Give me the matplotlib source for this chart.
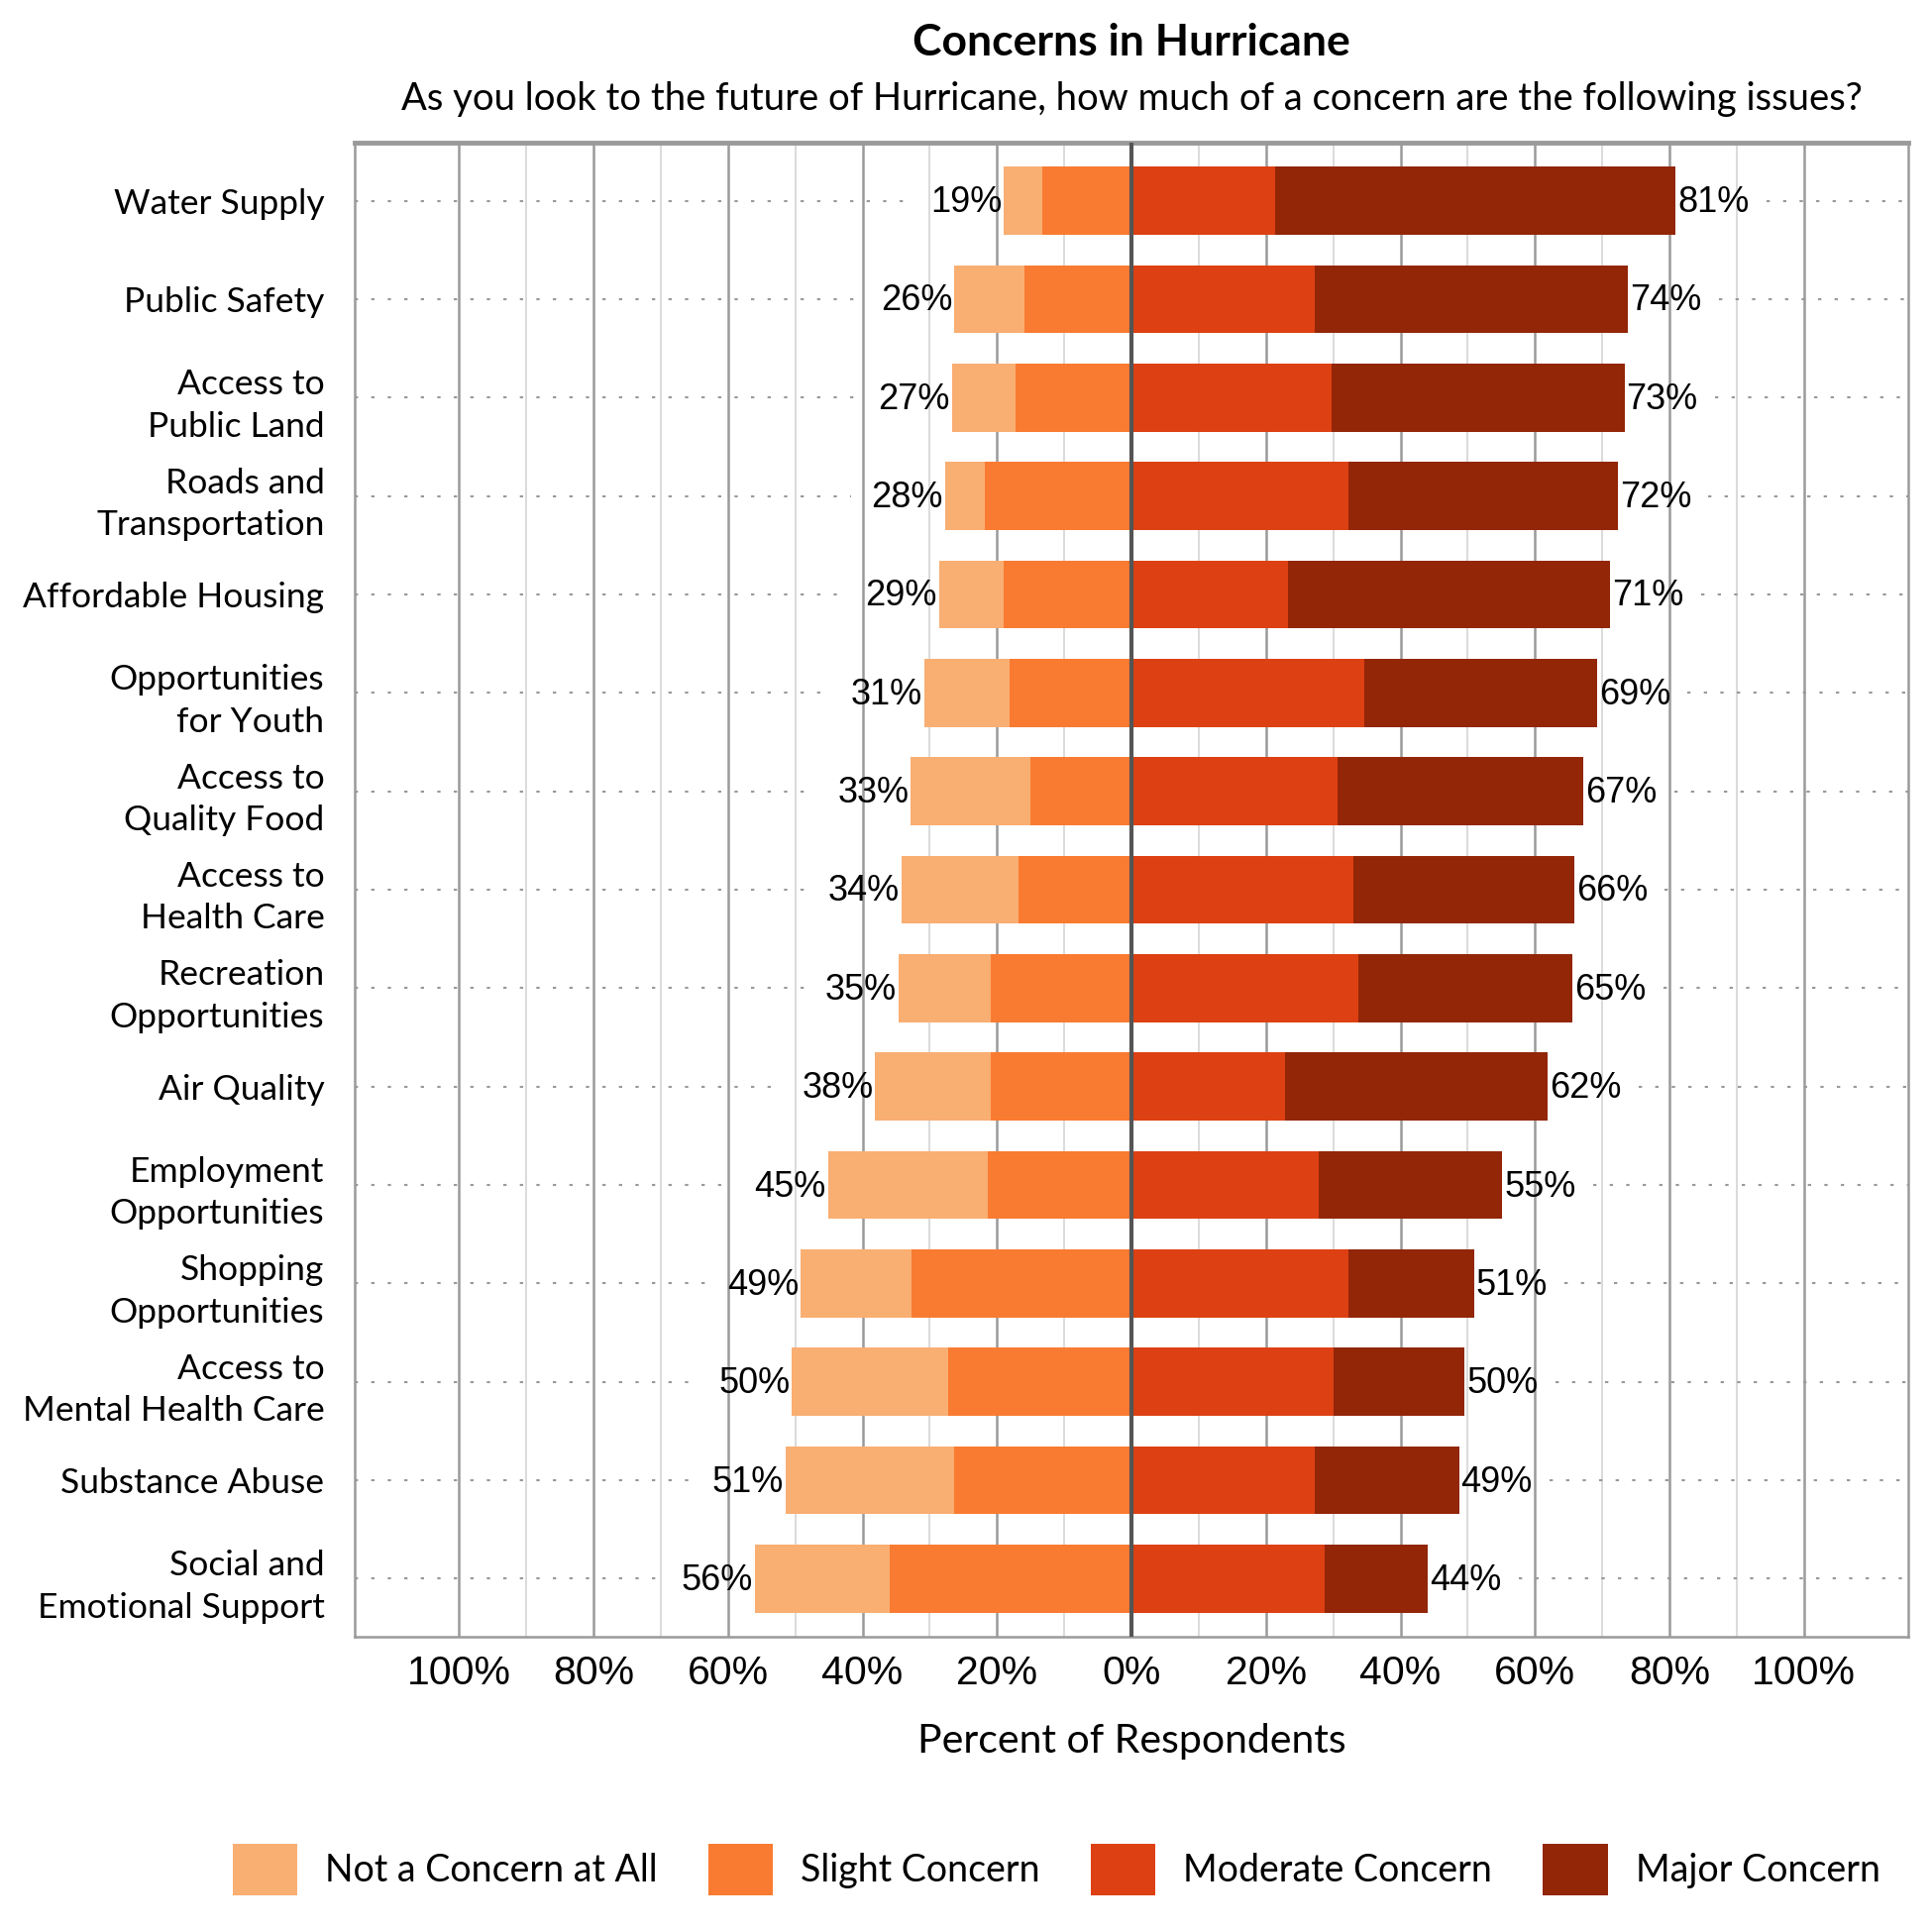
import numpy as np
import matplotlib
matplotlib.use("Agg")
import matplotlib.pyplot as plt
from matplotlib.patches import Patch

# issues, top to bottom
issues = ["Water Supply", "Public Safety", "Access to\nPublic Land",
          "Roads and\nTransportation", "Affordable Housing",
          "Opportunities\nfor Youth", "Access to\nQuality Food",
          "Access to\nHealth Care", "Recreation\nOpportunities", "Air Quality",
          "Employment\nOpportunities", "Shopping\nOpportunities",
          "Access to\nMental Health Care", "Substance Abuse",
          "Social and\nEmotional Support"]

# percent of respondents per answer
not_concern = [5.8, 10.4, 9.5, 5.9, 9.6, 12.7, 17.8, 17.4, 13.7, 17.2, 23.7, 16.5, 23.3, 25.0, 20.0]
slight = [13.2, 15.9, 17.2, 21.8, 19.0, 18.1, 15.0, 16.8, 20.9, 20.9, 21.4, 32.7, 27.2, 26.4, 36.0]
moderate = [21.4, 27.3, 29.7, 32.2, 23.3, 34.6, 30.6, 33.0, 33.7, 22.9, 27.8, 32.2, 30.0, 27.2, 28.7]
major = [59.5, 46.5, 43.6, 40.1, 47.9, 34.6, 36.6, 32.8, 31.9, 39.0, 27.3, 18.7, 19.5, 21.5, 15.4]
neg_labels = ["19%", "26%", "27%", "28%", "29%", "31%", "33%", "34%", "35%", "38%", "45%", "49%", "50%", "51%", "56%"]
pos_labels = ["81%", "74%", "73%", "72%", "71%", "69%", "67%", "66%", "65%", "62%", "55%", "51%", "50%", "49%", "44%"]

series = ["Not a Concern at All", "Slight Concern", "Moderate Concern", "Major Concern"]
colors = ["#F9AE72", "#F97B31", "#DD4012", "#922607"]

label_font = "Lato"
num_font = "Liberation Sans"

fig = plt.figure(figsize=(19.5, 19.5), dpi=100)
ax_rect = [0.1836, 0.1528, 0.8041, 0.7734]
ax = fig.add_axes(ax_rect)

n = len(issues)
y = np.arange(n)
nc = np.array(not_concern)
sl = np.array(slight)
mo = np.array(moderate)
ma = np.array(major)
neg_total = nc + sl
pos_total = mo + ma

xmax = 115.5
ax.set_xlim(-xmax, xmax)
ax.set_ylim(n - 0.41, -0.59)

# vertical grid
for v in range(-100, 101, 10):
    if v == 0:
        continue
    if v % 20 == 0:
        ax.axvline(v, color="#9a9a9a", lw=1.8, zorder=0)
    else:
        ax.axvline(v, color="#d4d4d4", lw=1.2, zorder=0)

# dotted guide lines, broken where the totals are written
for i in range(n):
    ax.plot([-xmax, -neg_total[i] - 14], [i, i], color="#999999", lw=1.5,
            ls=(0, (1.6, 6.4)), zorder=0.5)
    ax.plot([pos_total[i] + 13.5, xmax], [i, i], color="#999999", lw=1.5,
            ls=(0, (1.6, 6.4)), zorder=0.5)

h = 0.69
ax.barh(y, -sl, height=h, color=colors[1], zorder=2)
ax.barh(y, -nc, left=-sl, height=h, color=colors[0], zorder=2)
ax.barh(y, mo, height=h, color=colors[2], zorder=2)
ax.barh(y, ma, left=mo, height=h, color=colors[3], zorder=2)

ax.axvline(0, color="#555555", lw=3, zorder=3)

for i in range(n):
    ax.text(-neg_total[i] - 0.3, i + 0.02, neg_labels[i], ha="right", va="center",
            fontsize=26, family=num_font, color="black", zorder=4)
    ax.text(pos_total[i] + 0.3, i + 0.02, pos_labels[i], ha="left", va="center",
            fontsize=26, family=num_font, color="black", zorder=4)

ax.set_yticks(y)
ax.set_yticklabels(issues, fontsize=25.5, family=label_font, linespacing=1.4)
ax.tick_params(axis="y", length=0, pad=22)
for t in ax.get_yticklabels():
    t.set_horizontalalignment("right")

xt = np.arange(-100, 101, 20)
ax.set_xticks(xt)
ax.set_xticklabels([f"{abs(v)}%" for v in xt], fontsize=29.5, family=num_font)
ax.tick_params(axis="x", length=0, pad=13)

for s in ["left", "right", "bottom"]:
    ax.spines[s].set_color("#9a9a9a")
    ax.spines[s].set_linewidth(1.8)
ax.spines["top"].set_color("#9a9a9a")
ax.spines["top"].set_linewidth(3.5)

ax.set_xlabel("Percent of Respondents", fontsize=29.5, family=label_font, labelpad=22)

cx = ax_rect[0] + ax_rect[2] / 2
fig.text(cx, 0.978, "Concerns in Hurricane", ha="center", va="center",
         fontsize=32, fontweight="bold", family=label_font)
fig.text(cx, 0.9487, "As you look to the future of Hurricane, how much of a concern are the following issues?",
         ha="center", va="center", fontsize=27.5, family=label_font)

handles = [Patch(facecolor=c, edgecolor="none") for c in colors]
fig.legend(handles, series, loc="center", bbox_to_anchor=(853 / 1560, 0.0325),
           ncol=4, frameon=False, prop={"family": label_font, "size": 27},
           handlelength=1.75, handleheight=1.75, handletextpad=0.75, columnspacing=1.35)

fig.savefig("out.png", dpi=100)
